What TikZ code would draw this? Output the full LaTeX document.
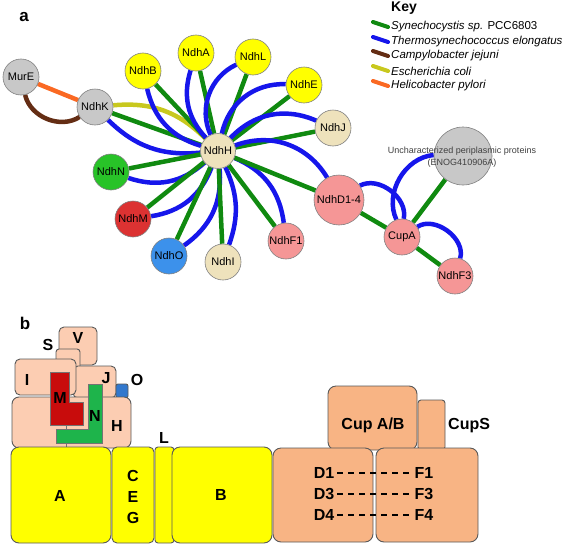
\documentclass[tikz,border=0pt]{standalone}
\usepackage{fontspec}
\setmainfont{Liberation Sans}
\usetikzlibrary{calc}
\definecolor{egreen}{RGB}{16,138,16}
\definecolor{eblue}{RGB}{22,22,235}
\definecolor{ebrown}{RGB}{100,45,20}
\definecolor{eolive}{RGB}{200,200,30}
\definecolor{eorange}{RGB}{250,105,35}
\definecolor{ngray}{RGB}{200,200,200}
\definecolor{nyellow}{RGB}{255,255,0}
\definecolor{nbeige}{RGB}{238,226,188}
\definecolor{npink}{RGB}{245,150,150}
\definecolor{ngreen}{RGB}{40,195,40}
\definecolor{nred}{RGB}{220,50,50}
\definecolor{nblue}{RGB}{60,145,235}
\definecolor{peach}{RGB}{252,205,178}
\definecolor{peachd}{RGB}{248,180,132}
\definecolor{mred}{RGB}{200,12,12}
\definecolor{ngr}{RGB}{30,180,75}
\definecolor{oblue}{RGB}{50,120,205}
\pgfdeclarelayer{bg}
\pgfsetlayers{bg,main}
\begin{document}
\begin{tikzpicture}[x=1pt,y=-1pt,
  prot/.style={circle,draw=black!50,line width=0.6pt,minimum size=36pt,inner sep=0pt,font=\fontsize{11}{12}\selectfont},
  eg/.style={draw=egreen,line width=4.5pt},
  eb/.style={draw=eblue,line width=4.5pt},
  ebr/.style={draw=ebrown,line width=4.5pt},
  eol/.style={draw=eolive,line width=4.5pt},
  eor/.style={draw=eorange,line width=4.5pt},
  swatch/.style={line width=4pt,line cap=round},
  keytxt/.style={anchor=west,inner sep=0pt,font=\fontsize{11.5}{13}\selectfont},
  bbox/.style={draw=black!65,line width=0.9pt,rounded corners=5pt,inner sep=0pt},
  bigbox/.style={bbox,rounded corners=8pt},
  blab/.style={inner sep=0pt,font=\fontsize{16}{18}\bfseries\selectfont},
  panel/.style={inner sep=0pt,font=\fontsize{17}{19}\bfseries\selectfont}]
\useasboundingbox (0,0) rectangle (567,546);

% ---------- panel a ----------
\node[panel] (pa) at (24,17) {a};

\node[prot,fill=ngray] (MurE) at (21,77) {MurE};
\node[prot,fill=ngray] (NdhK) at (95,107) {NdhK};
\node[prot,fill=nyellow] (NdhB) at (143,71) {NdhB};
\node[prot,fill=nyellow] (NdhA) at (196,53) {NdhA};
\node[prot,fill=nyellow] (NdhL) at (253,57) {NdhL};
\node[prot,fill=nyellow] (NdhE) at (304,85) {NdhE};
\node[prot,fill=nbeige] (NdhJ) at (333,128) {NdhJ};
\node[prot,fill=nbeige,minimum size=35pt] (NdhH) at (218,151) {NdhH};
\node[prot,fill=ngreen] (NdhN) at (111,172) {NdhN};
\node[prot,fill=nred] (NdhM) at (133,219) {NdhM};
\node[prot,fill=nblue] (NdhO) at (169,256) {NdhO};
\node[prot,fill=nbeige] (NdhI) at (223,262) {NdhI};
\node[prot,fill=npink] (NdhF1) at (286,241) {NdhF1};
\node[prot,fill=npink,minimum size=50pt] (NdhD) at (339,200) {NdhD1-4};
\node[prot,fill=npink] (CupA) at (402,237) {CupA};
\node[prot,fill=npink] (NdhF3) at (455,276) {NdhF3};
\node[prot,fill=ngray,minimum size=58pt] (Unc) at (463,156) {};
\node[inner sep=0pt,align=center,text=black!75,font=\fontsize{9}{12}\selectfont] (Unctxt) at (462,157) {Uncharacterized periplasmic proteins\\(ENOG410906A)};

\begin{pgfonlayer}{bg}
  \draw[eor] (MurE) -- (NdhK);
  \draw[ebr] (MurE) to[bend right=55] (NdhK);
  \draw[eol] (NdhK) to[bend left=25] (NdhH);
  \foreach \n/\b in {NdhK/25,NdhB/30,NdhA/30,NdhL/45,NdhE/40,NdhJ/35,NdhN/30,NdhM/30,NdhO/30,NdhI/22,NdhF1/30,NdhD/40}{
    \draw[eg] (\n) -- (NdhH);
    \draw[eb] (\n) to[bend right=\b] (NdhH);
  }
  \draw[eg] (NdhD) -- (CupA);
  \draw[eb] (NdhD) to[bend left=65] (CupA);
  \draw[eg] (CupA) -- (Unc);
  \draw[eb] (CupA) to[bend left=55] (Unc);
  \draw[eg] (CupA) -- (NdhF3);
  \draw[eb] (CupA) to[bend left=70] (NdhF3);
\end{pgfonlayer}

% key
\node[anchor=west,inner sep=0pt,font=\fontsize{14}{16}\bfseries\selectfont] (key) at (391,8) {Key};
\node[keytxt] (k1) at (391,27) {\textit{Synechocystis sp.} PCC6803};
\node[keytxt] (k2) at (391,42) {\textit{Thermosynechococcus elongatus}};
\node[keytxt] (k3) at (391,56) {\textit{Campylobacter jejuni}};
\node[keytxt] (k4) at (391,71) {\textit{Escherichia coli}};
\node[keytxt] (k5) at (391,86) {\textit{Helicobacter pylori}};
\foreach \k/\c in {k1/egreen,k2/eblue,k3/ebrown,k4/eolive,k5/eorange}{
  \draw[swatch,draw=\c] ($(\k.west)+(-18,-5)$) coordinate (\k s) -- ($(\k.west)+(-3,0)$) coordinate (\k e);
}

% ---------- panel b ----------
\node[panel] (pb) at (25,323) {b};

\node[bbox,fill=peach,minimum width=38pt,minimum height=38pt] (bV) at (78,346) {};
\node[bbox,fill=peach,minimum width=24pt,minimum height=26pt,rounded corners=3pt] (bS) at (68,362) {};
\node[bbox,fill=peach,minimum width=43pt,minimum height=32pt] (bJ) at (94.5,382) {};
\node[bbox,fill=peach,minimum width=61pt,minimum height=36pt] (bI) at (45.5,377) {};
\node[bbox,fill=oblue,minimum width=12pt,minimum height=14pt,rounded corners=2pt] (bO) at (122,391) {};
\node[bbox,fill=peach,minimum width=119pt,minimum height=51pt,rounded corners=7pt] (bH) at (71.5,422.5) {};
\draw[black!55,line width=0.6pt] (66,425) -- (66,429) (66,443) -- (66,448);
\draw[fill=mred,draw=black!55,line width=0.8pt] (50,372) -- (69,372) -- (69,402) -- (83,402) -- (83,425) -- (50,425) -- cycle;
\draw[fill=ngr,draw=black!55,line width=0.8pt] (88,384) -- (102,384) -- (102,443) -- (56,443) -- (56,429) -- (88,429) -- cycle;

\node[bigbox,fill=nyellow,minimum width=100pt,minimum height=96pt] (bA) at (61,495) {};
\node[bbox,fill=nyellow,minimum width=42pt,minimum height=96pt] (bCEG) at (133,495) {};
\node[bbox,fill=nyellow,minimum width=19pt,minimum height=96pt,rounded corners=3pt] (bL) at (164.5,495) {};
\node[bigbox,fill=nyellow,minimum width=100pt,minimum height=96pt] (bB) at (222,495) {};
\node[bigbox,fill=peachd,minimum width=89pt,minimum height=64pt] (bCup) at (372.5,418) {};
\node[bbox,fill=peachd,minimum width=27pt,minimum height=50pt,rounded corners=3pt] (bCupS) at (431.5,425) {};
\node[bigbox,fill=peachd,minimum width=100pt,minimum height=94pt] (bD) at (323,495) {};
\node[bigbox,fill=peachd,minimum width=102pt,minimum height=94pt] (bF) at (427,495) {};

\node[blab] (lV) at (78,338) {V};
\node[blab] (lS) at (48,345) {S};
\node[blab] (lI) at (27,380) {I};
\node[blab] (lJ) at (106,378) {J};
\node[blab] (lO) at (137,380) {O};
\node[blab] (lM) at (60,398) {M};
\node[blab] (lN) at (95,416) {N};
\node[blab] (lH) at (117,426) {H};
\node[blab] (lL) at (164,438) {L};
\node[blab] (lA) at (60,496) {A};
\node[blab] (lC) at (133,476) {C};
\node[blab] (lE) at (133,497) {E};
\node[blab] (lG) at (133,518) {G};
\node[blab] (lB) at (221,495) {B};
\node[blab] (lCup) at (373,425) {Cup A/B};
\node[blab,anchor=west] (lCupS) at (448,426) {CupS};
\node[blab] (d1) at (324,473) {D1};
\node[blab] (d3) at (324,494) {D3};
\node[blab] (d4) at (324,515) {D4};
\node[blab] (f1) at (424,473) {F1};
\node[blab] (f3) at (424,494) {F3};
\node[blab] (f4) at (424,515) {F4};
\foreach \a/\b in {d1/f1,d3/f3,d4/f4}{
  \draw[line width=1.8pt,dash pattern=on 6pt off 5pt] ([xshift=3pt]\a.east) -- ([xshift=-3pt]\b.west);
}
\end{tikzpicture}
\end{document}
